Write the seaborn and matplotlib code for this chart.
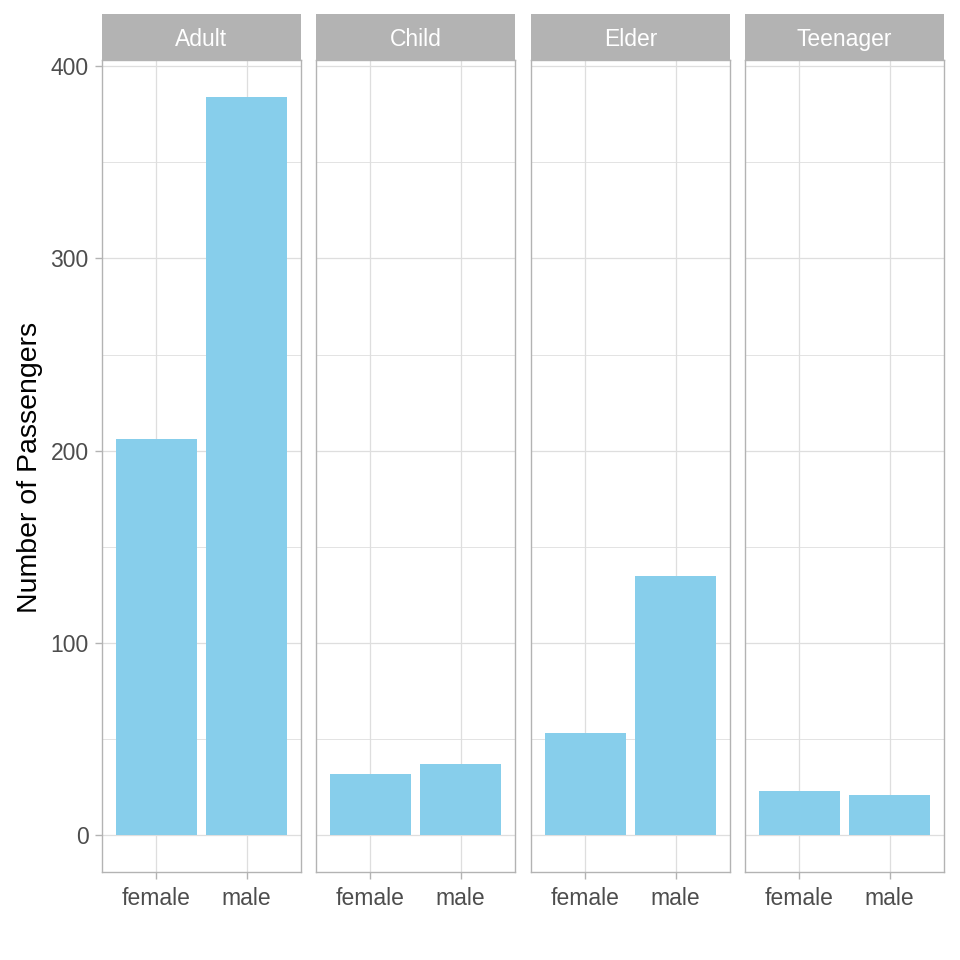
import matplotlib.pyplot as plt
import pandas as pd
import seaborn as sns
from matplotlib.patches import Rectangle
from matplotlib.ticker import MultipleLocator

# Passenger counts by age group and sex
age_groups = ['Adult', 'Child', 'Elder', 'Teenager']
sexes = ['female', 'male']
female_counts = [206, 32, 53, 23]
male_counts = [384, 37, 135, 21]

rows = []
for i, grp in enumerate(age_groups):
    rows.append({'AgeGroup': grp, 'Sex': 'female', 'Passengers': female_counts[i]})
    rows.append({'AgeGroup': grp, 'Sex': 'male', 'Passengers': male_counts[i]})
df = pd.DataFrame(rows)

sns.set_style('white')
plt.rcParams['font.family'] = ['Liberation Sans', 'DejaVu Sans']

fig = plt.figure(figsize=(9.6, 9.6), dpi=100)

grey70 = '#B3B3B3'
grey87 = '#DEDEDE'
grey30 = '#4D4D4D'

lefts = [102, 316, 531, 745]
panel_w = 199 / 960
bottom = 1 - 872 / 960
height = 812 / 960
strip_h = 46 / 812

ymax = max(male_counts + female_counts)
for k, grp in enumerate(age_groups):
    ax = fig.add_axes([lefts[k] / 960, bottom, panel_w, height])
    sub = df[df['AgeGroup'] == grp]
    sns.barplot(data=sub, x='Sex', y='Passengers', order=sexes, color='skyblue',
                saturation=1, width=0.9, linewidth=0, errorbar=None, ax=ax)
    ax.set_xlim(-0.6, 1.6)
    ax.set_ylim(-0.05 * ymax, ymax * 1.05)
    ax.yaxis.set_major_locator(MultipleLocator(100))
    ax.yaxis.set_minor_locator(MultipleLocator(50))
    ax.set_axisbelow(True)
    ax.grid(True, which='major', color=grey87, linewidth=0.9)
    ax.grid(True, which='minor', axis='y', color=grey87, linewidth=0.6)
    for s in ax.spines.values():
        s.set_visible(True)
        s.set_color(grey70)
        s.set_linewidth(1.0)
    ax.set_xlabel('')
    ax.set_ylabel('')
    ax.tick_params(axis='x', which='major', bottom=True, length=5, width=1, color=grey70,
                   labelsize=16.5, labelcolor=grey30, pad=6)
    ax.tick_params(axis='y', which='minor', left=False)
    if k == 0:
        ax.tick_params(axis='y', which='major', left=True, length=5, width=1, color=grey70,
                       labelsize=16.5, labelcolor=grey30, pad=4.5)
    else:
        ax.tick_params(axis='y', which='major', left=False, labelleft=False)
    ax.add_patch(Rectangle((0, 1), 1, strip_h, transform=ax.transAxes, clip_on=False,
                           facecolor=grey70, edgecolor='none'))
    ax.text(0.5, 1 + strip_h / 2, grp, transform=ax.transAxes, ha='center',
            va='center_baseline', color='white', fontsize=16.5)

fig.text(30 / 960, 1 - 467 / 960, 'Number of Passengers', rotation=90,
         ha='center', va='center', fontsize=20.5, color='black')

plt.savefig('out.png', dpi=100)
